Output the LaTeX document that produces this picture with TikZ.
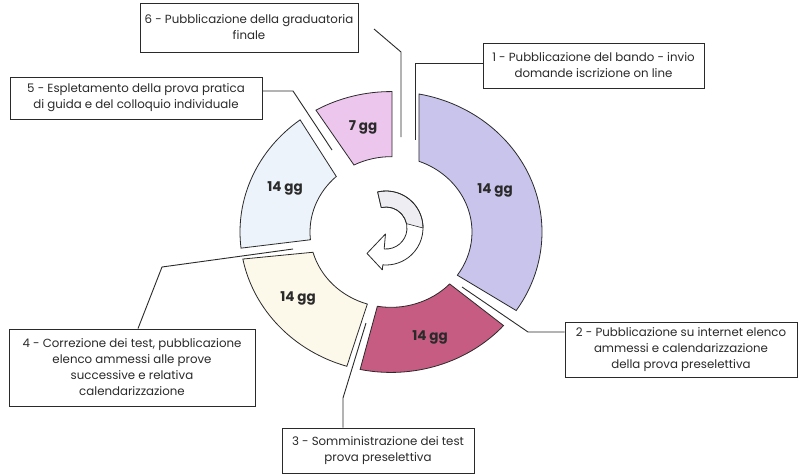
\documentclass[tikz,border=0pt]{standalone}
\usepackage{fontspec}
\setmainfont{Poppins}
\definecolor{purp}{HTML}{C9C4EC}
\definecolor{rasp}{HTML}{C65C82}
\definecolor{crem}{HTML}{FCF8EA}
\definecolor{lblu}{HTML}{EDF3FA}
\definecolor{pnk}{HTML}{EDC6EE}
\definecolor{ink}{HTML}{2A2A2A}
\definecolor{arrgrey}{HTML}{EEEEF2}
\begin{document}
\begin{tikzpicture}[x=1pt,y=-1pt,
  lbl/.style={draw=ink, line width=0.9pt, align=center, text=ink, inner sep=0pt,
    font=\fontsize{11.8}{16}\selectfont},
  seg/.style={draw=ink, line width=0.8pt},
  lead/.style={draw=ink, line width=0.9pt},
  gg/.style={font=\bfseries\fontsize{13.5}{15}\selectfont, text=ink}]
\useasboundingbox (0,0) rectangle (800,474);
\fill[white] (0,0) rectangle (800,474);

% ring segments
\begin{scope}[shift={(391,232)}, x=1pt, y=0.93pt]
  \path[seg, fill=purp] (79.3:151) arc[start angle=79.3, end angle=-34, radius=151]
    -- (-35:81) arc[start angle=-35, end angle=69.8, radius=81] -- cycle;
  \path[seg, fill=rasp] (-41.8:151) arc[start angle=-41.8, end angle=-101.8, radius=151]
    -- (-99.7:81) arc[start angle=-99.7, end angle=-43.6, radius=81] -- cycle;
  \path[seg, fill=crem] (-107:151) arc[start angle=-107, end angle=-168.9, radius=151]
    -- (-164.4:81) arc[start angle=-164.4, end angle=-107, radius=81] -- cycle;
  \path[seg, fill=lblu] (186.6:151) arc[start angle=186.6, end angle=127, radius=151]
    -- (132.5:81) arc[start angle=132.5, end angle=185.9, radius=81] -- cycle;
  \path[seg, fill=pnk] (119.8:151) arc[start angle=119.8, end angle=89.6, radius=151]
    -- (89.3:81) arc[start angle=89.3, end angle=117.2, radius=81] -- cycle;
\end{scope}

% central arrow
\begin{scope}[shift={(386,228)}, x=1pt, y=1pt]
  \path[fill=white, draw=ink, line width=0.8pt, line join=round]
    (103:37) arc[start angle=103, end angle=-95, radius=37]
    -- (-95:42) -- (-19,-25.4) -- (-95:6) -- (-95:21)
    arc[start angle=-95, end angle=103, radius=21] -- cycle;
  \fill[arrgrey] (103:36.5) arc[start angle=103, end angle=0, radius=36.5]
    -- (12:21.5) arc[start angle=12, end angle=103, radius=21.5] -- cycle;
  \draw[ink, line width=0.8pt] (103:37) arc[start angle=103, end angle=0, radius=37];
  \draw[ink, line width=0.8pt] (103:21) arc[start angle=103, end angle=12, radius=21];
  \draw[ink, line width=0.8pt] (103:37) -- (103:21);
  \draw[ink, line width=0.6pt] (12:21) -- (0:37);
\end{scope}

% segment labels
\node[gg] (g1) at (495,190) {14 gg};
\node[gg] (g2) at (430,337) {14 gg};
\node[gg] (g3) at (298,298) {14 gg};
\node[gg] (g4) at (285,188) {14 gg};
\node[gg] (g5) at (363,127) {7 gg};

% boxes
\node[lbl, minimum width=218pt, minimum height=49pt] (b6) at (249,27.5)
  {6 - Pubblicazione della graduatoria\\finale};
\node[lbl, minimum width=252pt, minimum height=42pt] (b5) at (136,98)
  {5 - Espletamento della prova pratica\\di guida e del colloquio individuale};
\node[lbl, minimum width=221pt, minimum height=45pt] (b1) at (593.5,65.5)
  {1 - Pubblicazione del bando - invio\\domande iscrizione on line};
\node[lbl, minimum width=232pt, minimum height=55pt] (b2) at (681,349.5)
  {2 - Pubblicazione su internet elenco\\ammessi e calendarizzazione\\della prova preselettiva};
\node[lbl, minimum width=246pt, minimum height=77pt] (b4) at (132,367.5)
  {4 - Correzione dei test, pubblicazione\\elenco ammessi alle prove\\successive e relativa\\calendarizzazione};
\node[lbl, minimum width=192pt, minimum height=45pt] (b3) at (378,450.5)
  {3 - Somministrazione dei test\\prova preselettiva};

% leader lines
\coordinate (l6a) at (374,29);
\coordinate (l6b) at (401,52);
\coordinate (l6c) at (401,137);
\draw[lead] (l6a) -- (l6b) -- (l6c);

\coordinate (l1b) at (415,63);
\coordinate (l1c) at (415,140);
\draw[lead] (b1.west |- l1b) -- (l1b) -- (l1c);

\coordinate (l5b) at (293,91);
\coordinate (l5c) at (332,150);
\draw[lead] (b5.east |- l5b) -- (l5b) -- (l5c);

\coordinate (l2b) at (528,332);
\coordinate (l2c) at (462,287);
\draw[lead] (b2.west |- l2b) -- (l2b) -- (l2c);

\coordinate (l3b) at (343,398);
\coordinate (l3c) at (366,323);
\draw[lead] (l3b |- b3.north) -- (l3b) -- (l3c);

\coordinate (l4b) at (162,267);
\coordinate (l4c) at (293,249);
\draw[lead] ([xshift=6pt]b4.north) -- (l4b) -- (l4c);
\end{tikzpicture}
\end{document}
